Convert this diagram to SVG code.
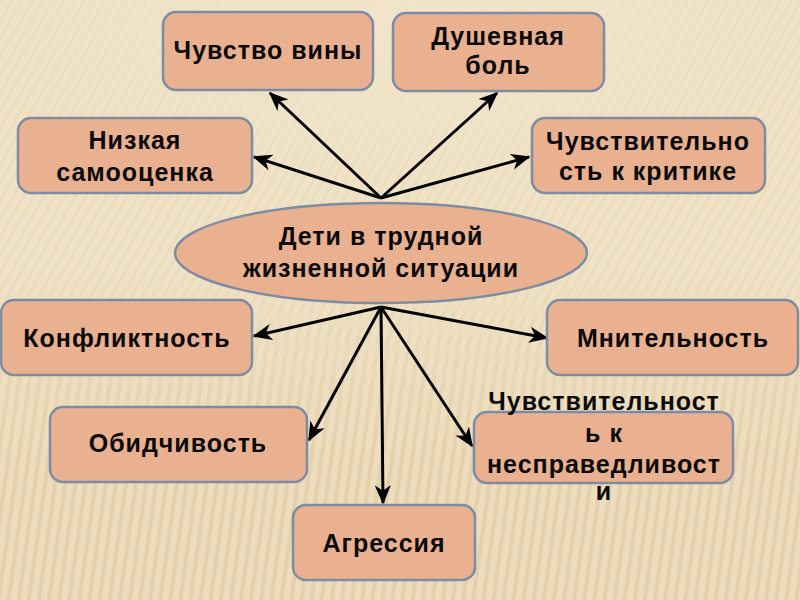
<svg xmlns="http://www.w3.org/2000/svg" width="800" height="600" viewBox="0 0 800 600">
<defs>
<style>
.box{fill:#EAB190;stroke:#7D8CA3;stroke-width:2.5}
.t{font-family:"Liberation Sans",Arial,sans-serif;font-weight:bold;font-size:25px;fill:#0a0a0a;text-anchor:middle;letter-spacing:1px}
.c line{stroke:#000;stroke-width:3;marker-end:url(#ah)}
</style>
<marker id="ah" viewBox="0 0 12 10" refX="11" refY="5" markerWidth="6.5" markerHeight="5.5" markerUnits="strokeWidth" orient="auto">
<path d="M0,0 L12,5 L0,10 L3.5,5 z" fill="#000"/>
</marker>
<pattern id="diag" width="9" height="9" patternUnits="userSpaceOnUse" patternTransform="rotate(30)">
<rect width="9" height="9" fill="#EFE2C6"/>
<rect width="3" height="9" fill="#E2D0A8" opacity="0.35"/>
</pattern>
<pattern id="vert" width="10" height="10" patternUnits="userSpaceOnUse" patternTransform="rotate(8)">
<rect width="10" height="10" fill="#EDDDBE"/>
<rect width="4" height="10" fill="#DCC69A" opacity="0.5"/>
</pattern>
<linearGradient id="fade" x1="0" y1="0" x2="0" y2="1">
<stop offset="0" stop-color="#fff" stop-opacity="0"/>
<stop offset="0.45" stop-color="#fff" stop-opacity="0"/>
<stop offset="0.75" stop-color="#fff" stop-opacity="1"/>
</linearGradient>
<mask id="m"><rect width="800" height="600" fill="url(#fade)"/></mask>
<radialGradient id="glow" cx="0.5" cy="0.1" r="0.6">
<stop offset="0" stop-color="#F1E4CA" stop-opacity="1"/>
<stop offset="1" stop-color="#F1E4CA" stop-opacity="0"/>
</radialGradient>
</defs>
<rect width="800" height="600" fill="url(#diag)"/>
<rect width="800" height="600" fill="url(#vert)" mask="url(#m)"/>
<rect width="800" height="300" fill="url(#glow)"/>

<g class="c" id="connectors">
<line x1="381" y1="198" x2="270" y2="93"/>
<line x1="381" y1="198" x2="497" y2="93"/>
<line x1="381" y1="198" x2="254" y2="157"/>
<line x1="381" y1="198" x2="529" y2="157"/>
<line x1="381" y1="307" x2="254" y2="336"/>
<line x1="381" y1="307" x2="547" y2="338"/>
<line x1="381" y1="307" x2="309" y2="440"/>
<line x1="381" y1="307" x2="472" y2="446"/>
<line x1="381" y1="307" x2="383" y2="503"/>
</g>

<g id="n_guilt"><rect class="box" x="163" y="12" width="210" height="78" rx="13"/><text class="t" x="268" y="59">Чувство вины</text></g>
<g id="n_pain"><rect class="box" x="393" y="13" width="211" height="78" rx="13"/><text class="t" x="498" y="45">Душевная</text><text class="t" x="498" y="74">боль</text></g>
<g id="n_self"><rect class="box" x="18" y="118" width="234" height="75" rx="13"/><text class="t" x="135" y="149">Низкая</text><text class="t" x="135" y="181">самооценка</text></g>
<g id="n_crit"><rect class="box" x="532" y="118" width="233" height="75" rx="13"/><text class="t" x="648" y="150">Чувствительно</text><text class="t" x="648" y="180">сть к критике</text></g>
<g id="n_center"><ellipse class="box" cx="381" cy="253" rx="206" ry="50"/><text class="t" x="381" y="245">Дети в трудной</text><text class="t" x="381" y="277">жизненной ситуации</text></g>
<g id="n_conf"><rect class="box" x="1" y="300" width="251" height="75" rx="13"/><text class="t" x="127" y="347">Конфликтность</text></g>
<g id="n_susp"><rect class="box" x="547" y="300" width="251" height="75" rx="13"/><text class="t" x="673" y="347">Мнительность</text></g>
<g id="n_touch"><rect class="box" x="50" y="407" width="257" height="75" rx="13"/><text class="t" x="178" y="452">Обидчивость</text></g>
<g id="n_just"><rect class="box" x="474" y="412" width="259" height="71" rx="13"/><text class="t" x="604" y="410">Чувствительност</text><text class="t" x="604" y="442">ь к</text><text class="t" x="604" y="473">несправедливост</text><text class="t" x="604" y="500">и</text></g>
<g id="n_aggr"><rect class="box" x="293" y="505" width="182" height="75" rx="13"/><text class="t" x="384" y="552">Агрессия</text></g>
</svg>
